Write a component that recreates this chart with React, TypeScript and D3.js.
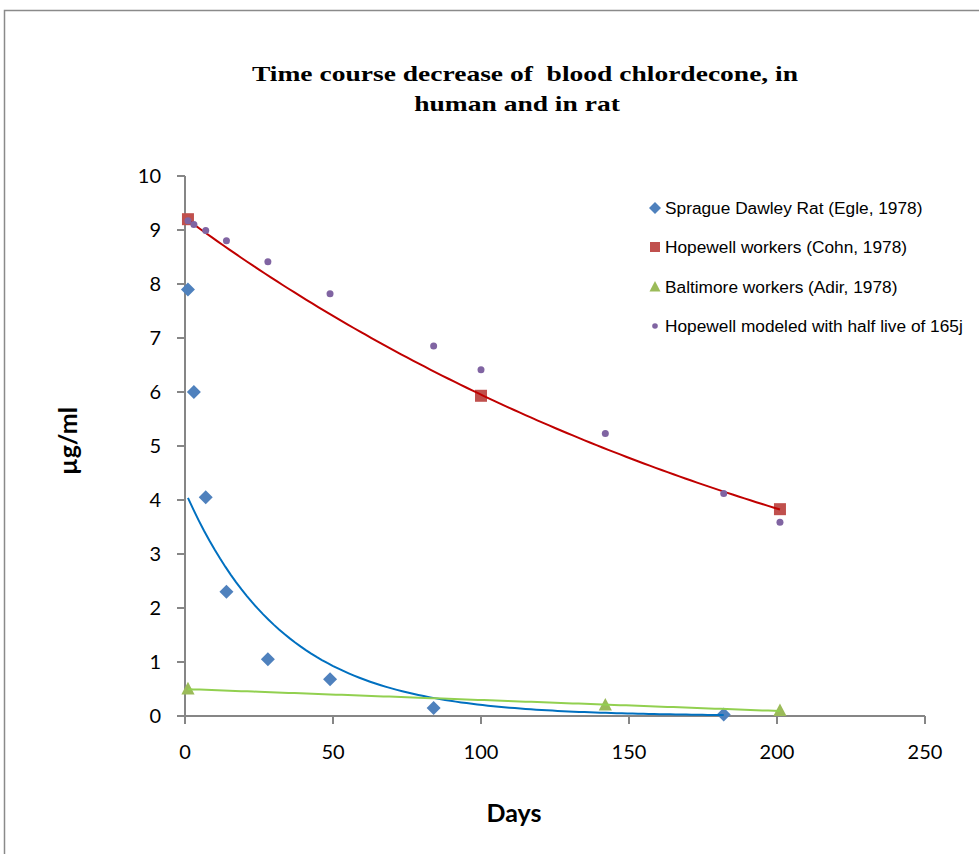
import React from "react";
import * as d3 from "d3";

const ratDays = [1, 3, 7, 14, 28, 49, 84, 182];
const ratValues = [7.9, 6.0, 4.05, 2.3, 1.05, 0.68, 0.15, 0.03];

const cohnDays = [1, 100, 201];
const cohnValues = [9.2, 5.93, 3.83];

const adirDays = [1, 142, 201];
const adirValues = [0.5, 0.2, 0.1];

const modelDays = [1, 3, 7, 14, 28, 49, 84, 100, 142, 182, 201];
const modelValues = [9.17, 9.1, 8.99, 8.8, 8.41, 7.82, 6.85, 6.41, 5.23, 4.12, 3.59];

const xTicks = [0, 50, 100, 150, 200, 250];
const yTicks = [0, 1, 2, 3, 4, 5, 6, 7, 8, 9, 10];

const titleLines = ["Time course decrease of  blood chlordecone, in", "human and in rat"];

const legendLabels = [
  "Sprague Dawley Rat (Egle, 1978)",
  "Hopewell workers (Cohn, 1978)",
  "Baltimore workers (Adir, 1978)",
  "Hopewell modeled with half live of 165j",
];

const C = {
  rat: "#4F81BD",
  cohn: "#C0504D",
  adir: "#9BBB59",
  model: "#8064A2",
  ratTrend: "#0070C0",
  cohnTrend: "#C00000",
  adirTrend: "#92D050",
  axis: "#868686",
};

function linFit(xs: number[], ys: number[]) {
  const mx = d3.mean(xs)!;
  const my = d3.mean(ys)!;
  let sxy = 0, sxx = 0;
  xs.forEach((x, i) => {
    sxy += (x - mx) * (ys[i] - my);
    sxx += (x - mx) * (x - mx);
  });
  const b = sxy / sxx;
  return { b, a: my - b * mx };
}

function expFit(xs: number[], ys: number[]) {
  const f = linFit(xs, ys.map((v) => Math.log(v)));
  return (x: number) => Math.exp(f.a + f.b * x);
}

export default function App() {
  const W = 979, H = 854;
  const x = d3.scaleLinear().domain([0, 250]).range([185, 925]);
  const y = d3.scaleLinear().domain([0, 10]).range([716, 176]);

  const ratFn = expFit(ratDays, ratValues);
  const cohnFn = expFit(cohnDays, cohnValues);
  const adirL = linFit(adirDays, adirValues);
  const adirFn = (t: number) => adirL.a + adirL.b * t;

  const sample = (fn: (t: number) => number, t0: number, t1: number) =>
    d3.range(0, 101).map((i) => {
      const t = t0 + ((t1 - t0) * i) / 100;
      return [t, fn(t)] as [number, number];
    });

  const line = d3
    .line<[number, number]>()
    .x((d) => x(d[0]))
    .y((d) => y(d[1]));

  const diamond = (cx: number, cy: number, r: number) =>
    `M${cx},${cy - r}L${cx + r},${cy}L${cx},${cy + r}L${cx - r},${cy}Z`;
  const tri = (cx: number, cy: number, s: number) =>
    `M${cx},${cy - s * 0.6}L${cx + s * 0.55},${cy + s * 0.45}L${cx - s * 0.55},${cy + s * 0.45}Z`;

  const legendY = [208, 247, 287, 326];
  const titleX = [525, 517];
  const titleYs = [81, 111];

  return (
    <svg
      width={W}
      height={H}
      style={{ position: "absolute", left: 0, top: 0, background: "#fff" }}
    >
      <rect x={0} y={0} width={W} height={H} fill="#fff" />
      <path d={`M4.5,${H}V10.5H${W}`} fill="none" stroke="#8a8a8a" strokeWidth={1.5} />

      {titleLines.map((t, i) => (
        <text
          key={"t" + i}
          transform={`translate(${titleX[i]},${titleYs[i]}) scale(1.28,1)`}
          textAnchor="middle"
          fontFamily="'Liberation Serif', 'Times New Roman', serif"
          fontWeight="bold"
          fontSize={21.5}
          style={{ whiteSpace: "pre" }}
        >
          {t}
        </text>
      ))}

      {/* axes */}
      <line x1={x(0)} x2={x(0)} y1={y(10)} y2={y(0)} stroke={C.axis} strokeWidth={2} />
      <line x1={x(0) - 8} x2={x(250)} y1={y(0)} y2={y(0)} stroke={C.axis} strokeWidth={2} />
      {yTicks.map((t) => (
        <g key={"y" + t}>
          <line x1={x(0) - 8} x2={x(0)} y1={y(t)} y2={y(t)} stroke={C.axis} strokeWidth={2} />
          <text
            x={161}
            y={y(t) + 7}
            textAnchor="end"
            fontFamily="Lato, 'Open Sans', sans-serif"
            fontSize={20}
            fill="#000"
          >
            {t}
          </text>
        </g>
      ))}
      {xTicks.map((t) => (
        <g key={"x" + t}>
          <line x1={x(t)} x2={x(t)} y1={y(0)} y2={y(0) + 8} stroke={C.axis} strokeWidth={2} />
          <text
            x={x(t)}
            y={759}
            textAnchor="middle"
            fontFamily="Lato, 'Open Sans', sans-serif"
            fontSize={20}
            fill="#000"
          >
            {t}
          </text>
        </g>
      ))}

      <text
        transform="translate(77,441) rotate(-90)"
        textAnchor="middle"
        fontFamily="Lato, 'Open Sans', sans-serif"
        fontWeight="bold"
        fontSize={25}
      >
        µg/ml
      </text>
      <text
        x={514}
        y={822}
        textAnchor="middle"
        fontFamily="Lato, 'Open Sans', sans-serif"
        fontWeight="bold"
        fontSize={25}
      >
        Days
      </text>

      {/* markers */}
      {ratDays.map((d, i) => (
        <path key={"r" + i} d={diamond(x(d), y(ratValues[i]), 7)} fill={C.rat} />
      ))}
      {cohnDays.map((d, i) => (
        <rect
          key={"c" + i}
          x={x(d) - 6}
          y={y(cohnValues[i]) - 6}
          width={12}
          height={12}
          fill={C.cohn}
        />
      ))}
      {adirDays.map((d, i) => (
        <path key={"a" + i} d={tri(x(d), y(adirValues[i]), 12)} fill={C.adir} />
      ))}

      {/* trendlines */}
      <path
        d={line(sample(ratFn, ratDays[0], ratDays[ratDays.length - 1]))!}
        fill="none"
        stroke={C.ratTrend}
        strokeWidth={2}
      />
      <path
        d={line(sample(cohnFn, cohnDays[0], cohnDays[cohnDays.length - 1]))!}
        fill="none"
        stroke={C.cohnTrend}
        strokeWidth={2}
      />
      <path
        d={line(sample(adirFn, adirDays[0], adirDays[adirDays.length - 1]))!}
        fill="none"
        stroke={C.adirTrend}
        strokeWidth={2}
      />

      {modelDays.map((d, i) => (
        <circle key={"m" + i} cx={x(d)} cy={y(modelValues[i])} r={3.5} fill={C.model} />
      ))}

      {/* legend */}
      <path d={diamond(655, legendY[0], 6)} fill={C.rat} />
      <rect x={650} y={legendY[1] - 5} width={10} height={10} fill={C.cohn} />
      <path d={tri(655, legendY[2], 10)} fill={C.adir} />
      <circle cx={655} cy={legendY[3]} r={2.8} fill={C.model} />
      {legendLabels.map((l, i) => (
        <text
          key={"l" + i}
          x={665}
          y={legendY[i] + 6}
          fontFamily="'Liberation Sans', Arial, sans-serif"
          fontSize={17.3}
          fill="#000"
        >
          {l}
        </text>
      ))}
    </svg>
  );
}
